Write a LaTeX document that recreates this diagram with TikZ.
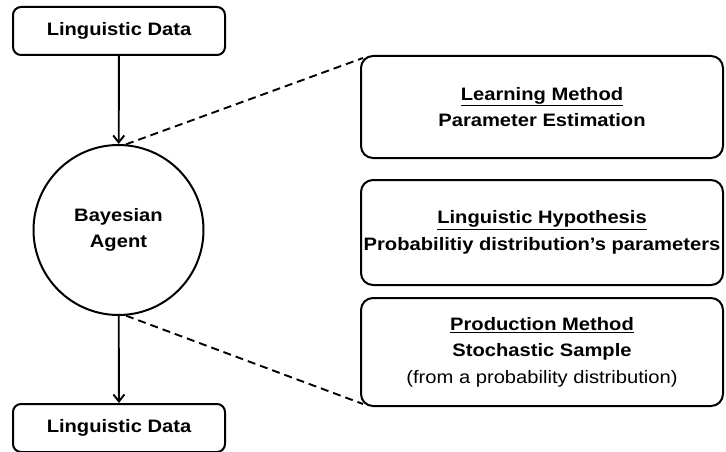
\documentclass[tikz,border=0pt]{standalone}
\usepackage{fontspec}
\setmainfont[Ligatures=NoCommon,FakeStretch=1.12]{Liberation Sans}
\usetikzlibrary{arrows.meta}
\begin{document}
\begin{tikzpicture}[x=1pt,y=-1pt,
  databox/.style={draw,line width=2pt,rounded corners=8pt,minimum width=212pt,minimum height=48pt,font=\fontsize{18}{20}\selectfont\bfseries,inner sep=0pt},
  agent/.style={draw,circle,line width=2pt,minimum size=170pt,font=\fontsize{18}{26}\selectfont\bfseries,align=center,inner sep=0pt},
  infobox/.style={draw,line width=2pt,rounded corners=12pt,minimum width=362pt,font=\fontsize{18}{26.5}\selectfont\bfseries,align=center,inner sep=0pt},
  flow/.style={line width=1.9pt,-{Straight Barb[length=7pt,width=11pt,line width=1.9pt]}},
  link/.style={line width=1.9pt,dash pattern=on 8pt off 5pt}]
\useasboundingbox (0,0) rectangle (726,452);
\node[databox] (top) at (119,31) {Linguistic Data};
\node[agent] (agent) at (118.5,230) {Bayesian\\Agent};
\node[databox] (bottom) at (119,428) {Linguistic Data};
\node[infobox,minimum height=102pt] (learn) at (542,107) {\underline{Learning Method}\\Parameter Estimation};
\node[infobox,minimum height=105pt] (hyp) at (542,232.5) {\underline{Linguistic Hypothesis}\\Probabilitiy distribution’s parameters};
\node[infobox,minimum height=108pt] (prod) at (542,352) {\underline{Production Method}\\Stochastic Sample\\{\mdseries (from a probability distribution)}};
\draw[flow] (top) -- (agent);
\draw[flow] (agent) -- (bottom);
\draw[link] (agent.85) -- ([shift={(3pt,-3pt)}]learn.north west);
\draw[link] (agent.275) -- ([shift={(3pt,3pt)}]prod.south west);
\end{tikzpicture}
\end{document}
